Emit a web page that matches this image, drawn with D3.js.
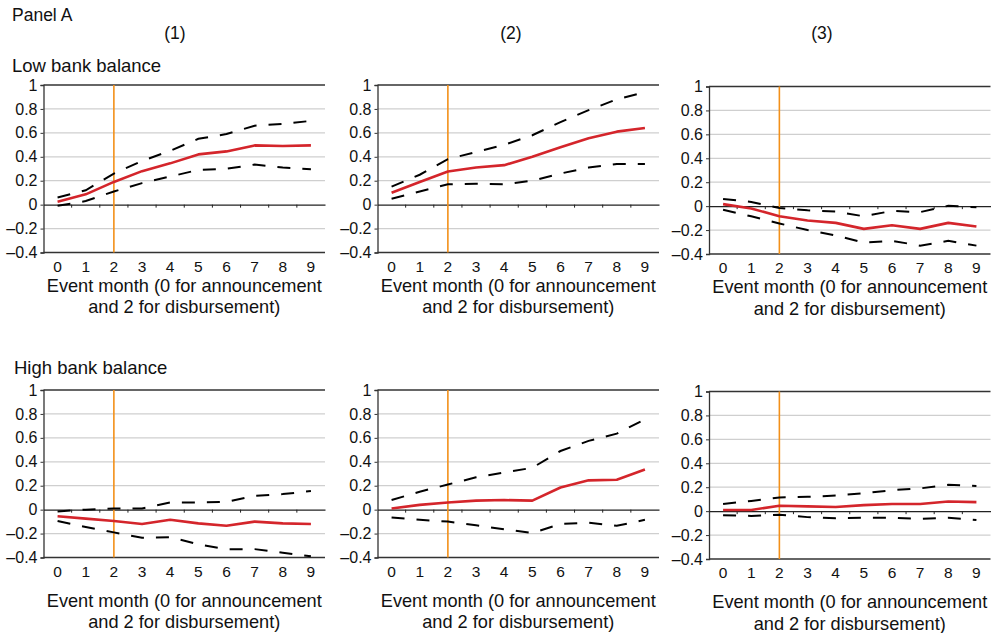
<!DOCTYPE html>
<html>
<head>
<meta charset="utf-8">
<script src="https://cdn.jsdelivr.net/npm/d3@7"></script>
<style>
  html, body { margin: 0; padding: 0; background: #fff; }
  svg { display: block; font-family: "Liberation Sans", Arial, Helvetica, sans-serif; }
</style>
</head>
<body>
<svg id="chart" width="994" height="633"></svg>
<script>
// Event months on the x axis
const months = [0, 1, 2, 3, 4, 5, 6, 7, 8, 9];
const disbursementMonth = 2;
const yTicks = [1, 0.8, 0.6, 0.4, 0.2, 0, -0.2, -0.4];
const columnLabels = ["(1)", "(2)", "(3)"];
const rowLabels = ["Low bank balance", "High bank balance"];
const xTitleLines = ["Event month (0 for announcement", "and 2 for disbursement)"];

// Low bank balance — point estimates and confidence bounds
const lowEst1   = [0.025, 0.086, 0.19, 0.28, 0.345, 0.42, 0.445, 0.495, 0.49, 0.495];
const lowUpper1 = [0.06, 0.12, 0.26, 0.365, 0.45, 0.55, 0.59, 0.66, 0.675, 0.70];
const lowLower1 = [-0.01, 0.03, 0.11, 0.18, 0.235, 0.29, 0.30, 0.335, 0.31, 0.295];

const lowEst2   = [0.10, 0.19, 0.277, 0.31, 0.33, 0.40, 0.48, 0.555, 0.61, 0.64];
const lowUpper2 = [0.15, 0.25, 0.38, 0.44, 0.50, 0.58, 0.69, 0.79, 0.88, 0.94];
const lowLower2 = [0.05, 0.11, 0.17, 0.175, 0.17, 0.20, 0.26, 0.31, 0.34, 0.34];

const lowEst3   = [0.017, -0.02, -0.084, -0.12, -0.14, -0.19, -0.16, -0.19, -0.14, -0.17];
const lowUpper3 = [0.06, 0.035, -0.015, -0.035, -0.045, -0.085, -0.04, -0.05, 0.003, -0.01];
const lowLower3 = [-0.03, -0.085, -0.145, -0.20, -0.245, -0.305, -0.29, -0.33, -0.29, -0.33];

// High bank balance — point estimates and confidence bounds
const highEst1   = [-0.055, -0.075, -0.095, -0.12, -0.085, -0.115, -0.135, -0.10, -0.115, -0.12];
const highUpper1 = [-0.015, 0.0, 0.01, 0.01, 0.06, 0.06, 0.065, 0.115, 0.13, 0.155];
const highLower1 = [-0.095, -0.145, -0.19, -0.235, -0.23, -0.29, -0.33, -0.33, -0.36, -0.39];

const highEst2   = [0.01, 0.04, 0.06, 0.075, 0.08, 0.075, 0.185, 0.245, 0.25, 0.335];
const highUpper2 = [0.08, 0.15, 0.21, 0.27, 0.31, 0.35, 0.49, 0.575, 0.635, 0.755];
const highLower2 = [-0.065, -0.085, -0.10, -0.13, -0.165, -0.195, -0.12, -0.11, -0.135, -0.085];

const highEst3   = [0.01, 0.01, 0.045, 0.04, 0.035, 0.05, 0.06, 0.06, 0.08, 0.075];
const highUpper3 = [0.06, 0.085, 0.115, 0.12, 0.13, 0.15, 0.175, 0.19, 0.22, 0.21];
const highLower3 = [-0.035, -0.04, -0.03, -0.05, -0.06, -0.055, -0.055, -0.065, -0.055, -0.075];

const panels = [
  { row: 0, col: 0, est: lowEst1,  upper: lowUpper1,  lower: lowLower1 },
  { row: 0, col: 1, est: lowEst2,  upper: lowUpper2,  lower: lowLower2 },
  { row: 0, col: 2, est: lowEst3,  upper: lowUpper3,  lower: lowLower3 },
  { row: 1, col: 0, est: highEst1, upper: highUpper1, lower: highLower1 },
  { row: 1, col: 1, est: highEst2, upper: highUpper2, lower: highLower2 },
  { row: 1, col: 2, est: highEst3, upper: highUpper3, lower: highLower3 }
];

// Layout
const colLeft = [43.5, 377.5, 709];
const colYShift = [0, 0, 1.5];
const plotW = 281.5;
const rowTop = [85, 390];
const plotH = 167.5;
const rowTitleGap = [39, 49];
const headerX = [175, 511, 822];

const svg = d3.select("#chart");
const fmt = v => (v < 0 ? "\u2013" + Math.abs(v) : String(v));

svg.append("text").attr("x", 12).attr("y", 21)
  .attr("font-size", 17.5).attr("fill", "#111").text("Panel A");
columnLabels.forEach((t, i) => {
  svg.append("text").attr("x", headerX[i]).attr("y", 39)
    .attr("text-anchor", "middle").attr("font-size", 17.5).attr("fill", "#111").text(t);
});
svg.append("text").attr("x", 12).attr("y", 72)
  .attr("font-size", 18.5).attr("fill", "#111").text(rowLabels[0]);
svg.append("text").attr("x", 14).attr("y", 374)
  .attr("font-size", 18.5).attr("fill", "#111").text(rowLabels[1]);

panels.forEach(p => {
  const left = colLeft[p.col];
  const top = rowTop[p.row] + colYShift[p.col];
  const g = svg.append("g").attr("transform", `translate(${left},${top})`);

  const x = d3.scaleBand().domain(months).range([0, plotW]);
  const y = d3.scaleLinear().domain([-0.4, 1]).range([plotH, 0]);
  const cx = m => x(m) + x.bandwidth() / 2;

  // horizontal gridlines
  g.selectAll("line.grid").data(yTicks.filter(v => v !== 0 && v !== 1 && v !== -0.4))
    .join("line").attr("class", "grid")
    .attr("x1", 0).attr("x2", plotW)
    .attr("y1", d => y(d)).attr("y2", d => y(d))
    .attr("stroke", "#cfcfcf").attr("stroke-width", 1.2);

  // top and bottom frame lines
  [1, -0.4].forEach(v => {
    g.append("line").attr("x1", 0).attr("x2", plotW)
      .attr("y1", y(v)).attr("y2", y(v))
      .attr("stroke", "#333").attr("stroke-width", 1.3);
  });

  // y axis
  const yAxis = d3.axisLeft(y).tickValues(yTicks).tickSize(3).tickPadding(3).tickFormat(fmt);
  const ya = g.append("g").call(yAxis);
  ya.select(".domain").attr("stroke", "#333").attr("stroke-width", 1.3);
  ya.selectAll(".tick line").attr("stroke", "#333");
  ya.selectAll(".tick text").attr("font-size", 16).attr("fill", "#111")
    .attr("font-family", "Liberation Sans, Arial, sans-serif");

  // zero line with category separators
  const xAxis = d3.axisBottom(x).tickSize(0).tickFormat("");
  const xa = g.append("g").attr("transform", `translate(0,${y(0)})`).call(xAxis);
  xa.select(".domain").attr("stroke", "#222").attr("stroke-width", 1.3);
  g.selectAll("line.sep").data(months.slice(1))
    .join("line").attr("class", "sep")
    .attr("x1", d => x(d)).attr("x2", d => x(d))
    .attr("y1", y(0)).attr("y2", y(0) + 3)
    .attr("stroke", "#222").attr("stroke-width", 1);

  // month labels below the panel
  g.selectAll("text.month").data(months)
    .join("text").attr("class", "month")
    .attr("x", d => cx(d)).attr("y", plotH + 19)
    .attr("text-anchor", "middle").attr("font-size", 15.5).attr("fill", "#111")
    .text(d => d);

  // axis title
  xTitleLines.forEach((t, i) => {
    g.append("text").attr("x", plotW / 2)
      .attr("y", plotH + rowTitleGap[p.row] + i * 21.5)
      .attr("text-anchor", "middle").attr("font-size", 18.2).attr("fill", "#111")
      .text(t);
  });

  // disbursement marker
  g.append("line")
    .attr("x1", cx(disbursementMonth)).attr("x2", cx(disbursementMonth))
    .attr("y1", y(1)).attr("y2", y(-0.4))
    .attr("stroke", "#f39019").attr("stroke-width", 1.6);

  const line = d3.line().x((d, i) => cx(months[i])).y(d => y(d));

  [p.upper, p.lower].forEach(series => {
    g.append("path").datum(series).attr("d", line)
      .attr("fill", "none").attr("stroke", "#000").attr("stroke-width", 2)
      .attr("stroke-dasharray", "13,12");
  });

  g.append("path").datum(p.est).attr("d", line)
    .attr("fill", "none").attr("stroke", "#d4252b").attr("stroke-width", 2.6)
    .attr("stroke-linejoin", "round");
});
</script>
</body>
</html>
